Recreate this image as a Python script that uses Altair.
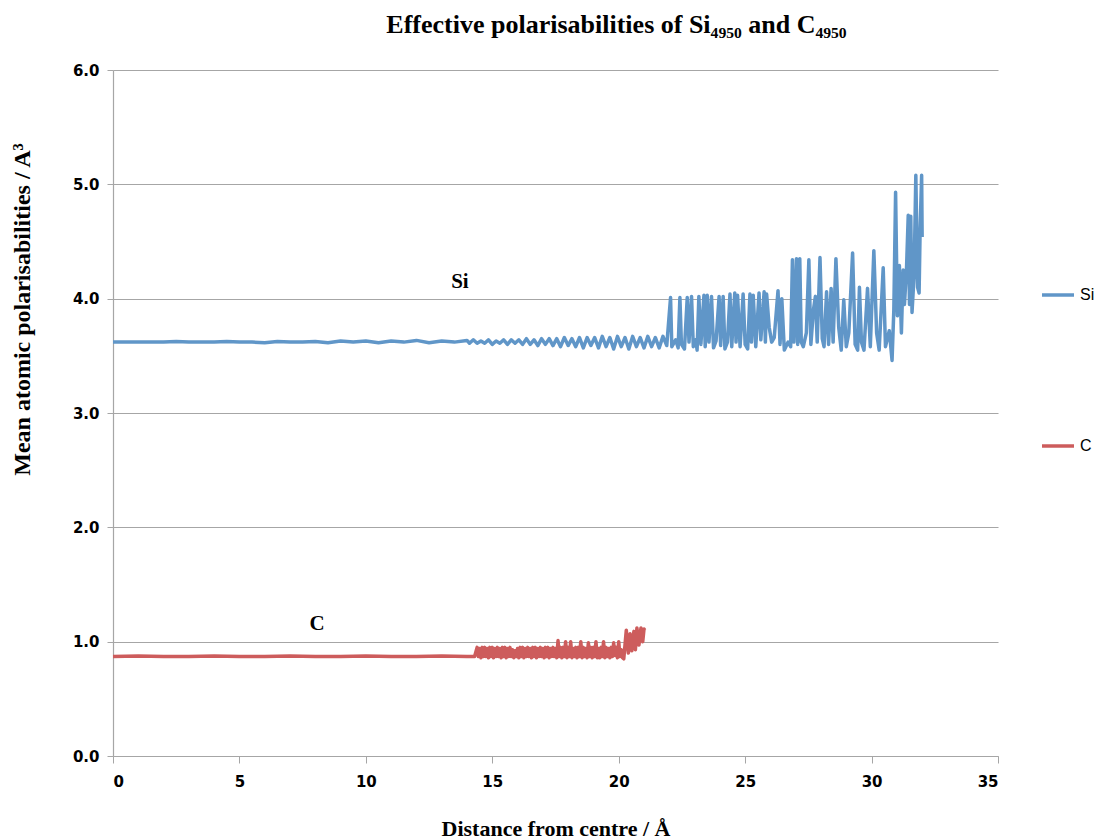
import altair as alt
import pandas as pd

# ---------------- data ----------------
si_x = [0, 0.5, 1, 1.5, 2, 2.5, 3, 3.5, 4, 4.5, 5, 5.5, 6, 6.5, 7, 7.5, 8, 8.5, 9, 9.5,
        10, 10.5, 11, 11.5, 12, 12.5, 13, 13.5, 14,
        14.1, 14.25, 14.4, 14.55, 14.7, 14.85, 15.0, 15.15, 15.3, 15.45, 15.6, 15.75, 15.9,
        16.05, 16.2, 16.35, 16.5, 16.65, 16.8, 16.95, 17.1, 17.25, 17.4, 17.55, 17.7, 17.85,
        18.0, 18.15, 18.3, 18.45, 18.6, 18.75, 18.9, 19.05, 19.2, 19.35, 19.5, 19.65, 19.8,
        19.95, 20.1, 20.25, 20.4, 20.55, 20.7, 20.85, 21.0, 21.15, 21.3, 21.45, 21.6, 21.75,
        21.9,
        22.05, 22.1, 22.25, 22.35, 22.42, 22.48, 22.6, 22.71, 22.78, 22.88, 22.95, 23.05,
        23.1, 23.17, 23.25, 23.37, 23.42, 23.5, 23.57, 23.67, 23.75, 23.85, 23.97, 24.03,
        24.13, 24.2, 24.3, 24.4, 24.47, 24.59, 24.64, 24.7, 24.8, 24.92, 25.0, 25.1, 25.19,
        25.25, 25.32, 25.42, 25.55, 25.62, 25.75, 25.8, 25.85, 25.95, 26.05, 26.15, 26.3,
        26.38, 26.45, 26.55, 26.7,
        26.8, 26.87, 26.93, 27.03, 27.08, 27.16, 27.22, 27.3, 27.42, 27.52, 27.6, 27.7,
        27.78, 27.85, 27.96, 28.05, 28.12, 28.22, 28.3, 28.4, 28.48, 28.59, 28.7, 28.8,
        28.9, 29.0, 29.1, 29.25, 29.35, 29.45, 29.52, 29.6, 29.7, 29.84, 29.95, 30.09,
        30.2, 30.3, 30.46, 30.55, 30.7, 30.81, 30.88, 30.95, 31.02, 31.1, 31.18, 31.25,
        31.3, 31.38, 31.45, 31.5, 31.55, 31.6, 31.68, 31.75, 31.82, 31.88, 31.92, 31.98, 32.0]
si_y = [3.62, 3.62, 3.62, 3.62, 3.62, 3.625, 3.62, 3.62, 3.62, 3.625, 3.62, 3.62, 3.615, 3.625,
        3.62, 3.62, 3.625, 3.615, 3.63, 3.62, 3.63, 3.615, 3.63, 3.62, 3.635, 3.615, 3.63, 3.62,
        3.635,
        3.61, 3.64, 3.61, 3.63, 3.61, 3.64, 3.60, 3.63, 3.61, 3.64, 3.60, 3.64, 3.61,
        3.64, 3.60, 3.65, 3.60, 3.64, 3.59, 3.65, 3.60, 3.65, 3.59, 3.65, 3.58, 3.66,
        3.59, 3.65, 3.58, 3.66, 3.57, 3.66, 3.59, 3.66, 3.57, 3.67, 3.58, 3.66, 3.56,
        3.67, 3.58, 3.66, 3.56, 3.67, 3.58, 3.66, 3.57, 3.67, 3.58, 3.66, 3.57, 3.67,
        3.59,
        4.01, 3.58, 3.64, 3.57, 4.01, 3.60, 3.56, 4.01, 3.62, 4.02, 3.58, 3.64,
        3.55, 4.02, 3.60, 4.03, 3.58, 4.03, 3.62, 4.02, 3.57, 3.63, 4.02, 3.59,
        4.02, 3.56, 3.62, 4.04, 3.58, 4.05, 3.62, 4.03, 3.58, 4.04, 3.60, 3.56, 4.04,
        3.62, 4.03, 3.58, 4.05, 3.64, 4.06, 3.62, 4.04, 3.75, 3.62, 3.66, 4.07,
        3.60, 4.00, 3.55, 3.62,
        3.58, 4.34, 3.62, 4.35, 3.60, 4.35, 3.62, 3.58, 3.70, 4.34, 3.60, 3.90,
        4.02, 3.62, 4.36, 3.65, 3.58, 4.06, 3.60, 4.09, 3.62, 4.35, 3.75, 3.55,
        3.99, 3.58, 3.70, 4.40, 3.60, 3.55, 4.10, 3.62, 3.55, 4.09, 3.58, 4.42,
        3.70, 3.55, 4.27, 3.58, 3.72, 3.46, 3.90, 4.93, 3.85, 4.29, 3.70, 4.25,
        3.95, 4.25, 4.73, 3.95, 4.72, 3.88, 4.20, 5.08, 4.10, 4.05, 4.60, 5.08, 4.54]

c_x = [0, 1, 2, 3, 4, 5, 6, 7, 8, 9, 10, 11, 12, 13, 14, 14.3,
       14.40, 14.45, 14.50, 14.55, 14.60, 14.65, 14.70, 14.75, 14.80, 14.85, 14.90, 14.95,
       15.00, 15.05, 15.10, 15.15, 15.20, 15.25, 15.30, 15.35, 15.40, 15.45, 15.50, 15.55,
       15.60, 15.65, 15.70, 15.75, 15.80, 15.85, 15.90, 15.95, 16.00, 16.05, 16.10, 16.15,
       16.20, 16.25, 16.30, 16.35, 16.40, 16.45, 16.50, 16.55, 16.60, 16.65, 16.70, 16.75,
       16.80, 16.85, 16.90, 16.95, 17.00, 17.05, 17.10, 17.15, 17.20, 17.25, 17.30, 17.35,
       17.40, 17.45, 17.50, 17.55,
       17.60, 17.65, 17.70, 17.75, 17.80, 17.85, 17.90, 17.95, 18.00, 18.05, 18.10, 18.15,
       18.20, 18.25, 18.30, 18.35, 18.40, 18.45, 18.50, 18.55, 18.60, 18.65, 18.70, 18.75,
       18.80, 18.85, 18.90, 18.95, 19.00, 19.05, 19.10, 19.15, 19.20, 19.25, 19.30, 19.35,
       19.40, 19.45, 19.50, 19.55, 19.60, 19.65, 19.70, 19.75, 19.80, 19.85, 19.90, 19.95,
       20.00, 20.05, 20.10, 20.15, 20.20,
       20.3, 20.38, 20.45, 20.52, 20.6, 20.66, 20.72, 20.8, 20.88, 20.95, 21.0, 21.03]
c_y = [0.87, 0.875, 0.87, 0.87, 0.875, 0.87, 0.87, 0.875, 0.87, 0.87, 0.875, 0.87, 0.87,
       0.875, 0.87, 0.87,
       0.95, 0.87, 0.94, 0.86, 0.95, 0.87, 0.95, 0.87, 0.94, 0.86, 0.95, 0.87,
       0.95, 0.86, 0.94, 0.87, 0.95, 0.87, 0.94, 0.86, 0.95, 0.87, 0.95, 0.86,
       0.94, 0.87, 0.95, 0.87, 0.93, 0.86, 0.92, 0.87, 0.94, 0.86, 0.95, 0.87,
       0.95, 0.86, 0.94, 0.87, 0.95, 0.87, 0.94, 0.86, 0.95, 0.87, 0.95, 0.86,
       0.94, 0.87, 0.95, 0.87, 0.94, 0.86, 0.95, 0.87, 0.95, 0.86, 0.94, 0.87,
       0.95, 0.87, 0.94, 0.86,
       1.01, 0.87, 0.95, 0.86, 0.95, 0.87, 1.00, 0.86, 0.95, 0.87, 1.00, 0.86,
       0.94, 0.87, 0.95, 0.86, 0.95, 0.87, 1.00, 0.86, 0.95, 0.87, 0.94, 0.86,
       0.99, 0.87, 0.95, 0.86, 0.95, 0.87, 1.00, 0.86, 0.94, 0.86, 0.95, 0.87,
       1.00, 0.86, 0.95, 0.87, 0.94, 0.86, 0.95, 0.87, 0.99, 0.88, 0.95, 0.86,
       1.00, 0.87, 0.93, 0.86, 0.85,
       1.10, 0.90, 1.07, 0.92, 1.09, 0.93, 1.12, 0.97, 1.12, 1.00, 1.11, 1.10]

series_names = ["Si", "C"]
series_colors = ["#6096C8", "#CD5C5C"]
x_ticks = [0, 5, 10, 15, 20, 25, 30, 35]
y_ticks = [0, 1, 2, 3, 4, 5, 6]
ann_text = ["Si", "C"]
ann_x = [13.72, 8.07]
ann_y = [4.15, 1.155]

df = pd.concat([
    pd.DataFrame({"series": "Si", "x": si_x, "y": si_y, "i": range(len(si_x))}),
    pd.DataFrame({"series": "C", "x": c_x, "y": c_y, "i": range(len(c_x))}),
], ignore_index=True)
ann = pd.DataFrame({"t": ann_text, "x": ann_x, "y": ann_y})

xs = alt.Scale(domain=[0, 35], nice=False, zero=False)
ys = alt.Scale(domain=[0, 6], nice=False)

lines = alt.Chart(df).mark_line(strokeWidth=3.5, strokeJoin="round").encode(
    x=alt.X("x:Q", scale=xs, axis=alt.Axis(
        values=x_ticks, format="d", title="Distance from centre / Å",
        grid=False, tickSize=7, labelPadding=11, titleY=72, titleBaseline="middle",
        titleFontSize=22)),
    y=alt.Y("y:Q", scale=ys, axis=alt.Axis(
        values=y_ticks, format=".1f", title="Mean atomic polarisabilities / A³",
        grid=True, tickSize=6, labelPadding=8, titleX=-79, titleY=239,
        titleFontSize=24)),
    color=alt.Color("series:N", scale=alt.Scale(domain=series_names, range=series_colors),
                    legend=alt.Legend(title=None, orient="none", legendX=927, legendY=207,
                                      symbolType="stroke", symbolStrokeWidth=3.5,
                                      symbolSize=1024, labelFont="Liberation Sans",
                                      labelFontSize=16, labelColor="#000000",
                                      rowPadding=125, labelOffset=4, labelLimit=60)),
    order="i:Q",
)

labels = alt.Chart(ann).mark_text(font="Liberation Serif", fontWeight="bold", fontSize=21,
                                  color="#000000").encode(
    x=alt.X("x:Q", scale=xs), y=alt.Y("y:Q", scale=ys), text="t:N")

chart = alt.layer(lines, labels).properties(
    width=885, height=686,
    padding={"left": 105, "top": 62, "right": 96, "bottom": 83},
    autosize=alt.AutoSizeParams(type="none"),
    title=alt.TitleParams("Effective polarisabilities of Si₄₉₅₀ and C₄₉₅₀",
                          font="Liberation Serif", fontSize=26, fontWeight="bold",
                          anchor="middle", dx=61, offset=25, color="#000000"),
).configure_view(stroke=None).configure_axis(
    domainColor="#a6a6a6", tickColor="#a6a6a6", gridColor="#a6a6a6", gridWidth=1.2,
    domainWidth=1.2, labelFont="DejaVu Sans", labelFontWeight="bold", labelFontSize=15,
    labelColor="#000000", titleFont="Liberation Serif", titleFontWeight="bold",
    titleColor="#000000",
)

chart.save("out.html", embed_options={"renderer": "svg", "actions": False})
